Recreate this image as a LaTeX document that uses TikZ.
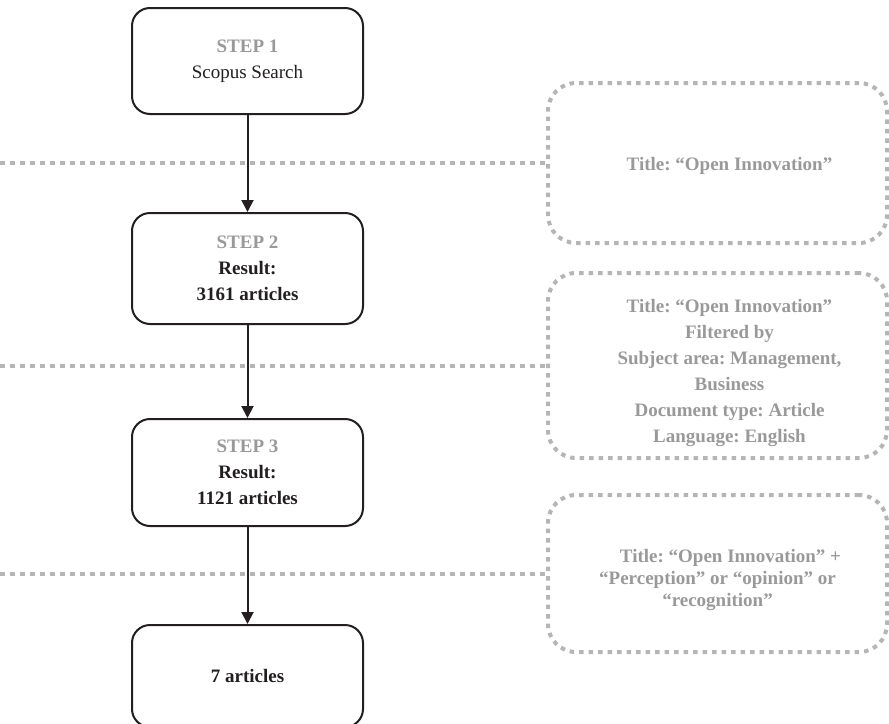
\documentclass[tikz,border=0pt]{standalone}
\usepackage{fontspec}
\setmainfont{Liberation Serif}
\usetikzlibrary{arrows.meta,positioning}
\definecolor{stepgray}{HTML}{999999}
\definecolor{dotgray}{HTML}{B5B5B5}
\definecolor{linedark}{HTML}{231F20}
\frenchspacing

\begin{document}
\begin{tikzpicture}[x = 1pt, y = -1pt,
  stepbox/.style = {draw = linedark, line width = 2pt, shape = rectangle, rounded corners = 18pt, minimum width = 231pt, align = center, text = linedark, font = \fontsize{19}{26}\selectfont},
  filterbox/.style = {draw = dotgray, line width = 4pt, dash pattern = on 4.5pt off 5pt, shape = rectangle, rounded corners = 28pt, minimum width = 339pt},
  filtertext/.style = {text = stepgray, align = center, font = \fontsize{19}{26}\selectfont\bfseries},
  cutline/.style = {draw = dotgray, line width = 4pt, dash pattern = on 5pt off 5pt},
  flow/.style = {draw = linedark, line width = 2pt, -{Triangle[length = 12pt, width = 12pt]}}]
\useasboundingbox (0, 0) rectangle (889, 723);

\node[stepbox, minimum height = 106pt] (1) at (247.5, 61) {\textcolor{stepgray}{\textbf{STEP 1}}\\Scopus Search};
\node[stepbox, minimum height = 111pt, below = 97pt of 1] (2) {\textcolor{stepgray}{\textbf{STEP 2}}\\\textbf{Result:}\\\textbf{3161 articles}};
\node[stepbox, minimum height = 107pt, below = 93pt of 2] (3) {\textcolor{stepgray}{\textbf{STEP 3}}\\\textbf{Result:}\\\textbf{1121 articles}};
\node[stepbox, minimum height = 102pt, below = 97pt of 3] (4) {\textbf{7 articles}};

\node[filterbox, minimum height = 160pt] (11) at (717.5, 163) {};
\node[filterbox, minimum height = 185pt] (12) at (717.5, 365.5) {};
\node[filterbox, minimum height = 157pt] (13) at (717.5, 573.5) {};

\node[filtertext, xshift = 12pt, yshift = -3pt] (21) at (11) {Title: “Open Innovation”};
\node[filtertext, xshift = 12pt, yshift = -7pt] (22) at (12) {Title: “Open Innovation”\\Filtered by\\Subject area: Management,\\Business\hspace*{22pt}\\Document type: Article\\Language: English};
\node[filtertext, font = \fontsize{19}{22}\selectfont\bfseries, yshift = -6pt] (23) at (13) {\hspace*{26pt}Title: “Open Innovation” +\\“Perception” or “opinion” or\\“recognition”};

\draw[flow] (1) -- (2);
\draw[flow] (2) -- (3);
\draw[flow] (3) -- (4);

% dotted cut lines from the left edge
\coordinate (31) at (11.west -| 0,0);
\coordinate (32) at (12.west -| 0,0);
\coordinate (33) at (13.west -| 0,0);
\draw[cutline] (31) -- (11.west);
\draw[cutline] (32) -- (12.west);
\draw[cutline] (33) -- (13.west);
\end{tikzpicture}
\end{document}
